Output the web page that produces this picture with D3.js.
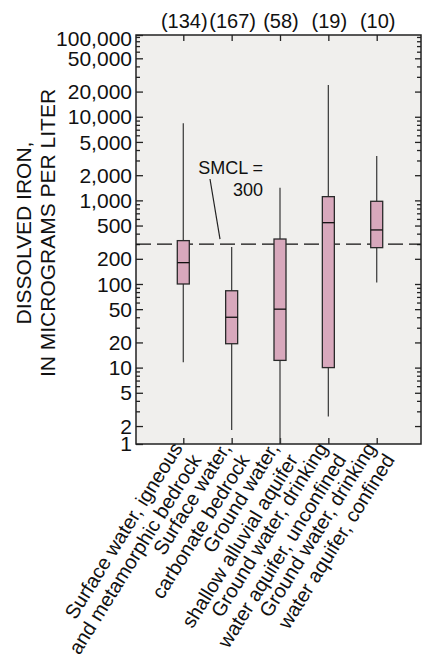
<!DOCTYPE html>
<html>
<head>
<meta charset="utf-8">
<script src="https://cdn.jsdelivr.net/npm/d3@7"></script>
<style>
  body { margin: 0; background: #ffffff; }
  svg { display: block; }
  text { font-family: "Liberation Sans", Arial, Helvetica, sans-serif; fill: #111; }
</style>
</head>
<body>
<svg id="chart" width="422" height="659"></svg>
<script>
// Dissolved iron by water type — boxplot summary (micrograms per liter)
const categoryLines = [
  ["Surface water, igneous", "and metamorphic bedrock"],
  ["Surface water,", "carbonate bedrock"],
  ["Ground water,", "shallow alluvial aquifer"],
  ["Ground water, drinking", "water aquifer, unconfined"],
  ["Ground water, drinking", "water aquifer, confined"]
];
const categories = categoryLines.map(l => l.join(" "));
const sampleCounts = [134, 167, 58, 19, 10];
const whiskerLow  = [11.6, 1.8, 1, 2.6, 104];
const quartile1   = [100, 19.3, 12.2, 10, 272];
const medians     = [180, 40, 50, 541, 443];
const quartile3   = [330, 83, 345, 1108, 975];
const whiskerHigh = [8360, 277, 1420, 24000, 3400];
const smcl = 300;
const yExtent = [1.22, 95000];
const yTickValues = [1, 2, 5, 10, 20, 50, 100, 200, 500, 1000, 2000, 5000, 10000, 20000, 50000, 100000];

const svg = d3.select("#chart");
const frame = { left: 136, right: 421, top: 35, bottom: 444 };

const x = d3.scalePoint().domain(categories).range([183.3, 376.7]);
const y = d3.scaleLog().domain(yExtent).range([frame.bottom, frame.top]).clamp(true);

const minorTicks = [];
for (let p = 0; p <= 4; p++) {
  for (let k = 1; k <= 9; k++) {
    const v = k * Math.pow(10, p);
    if (![1, 2, 5].includes(k) && v >= yExtent[0] && v <= yExtent[1]) minorTicks.push(v);
  }
}

// plot background
svg.append("rect")
  .attr("x", frame.left).attr("y", frame.top)
  .attr("width", frame.right - frame.left).attr("height", frame.bottom - frame.top)
  .attr("fill", "#f0efed");

// axes with inward ticks
const fmt = d3.format(",");
const leftMajor = svg.append("g").attr("transform", `translate(${frame.left},0)`)
  .call(d3.axisLeft(y).tickValues(yTickValues).tickSize(-7).tickPadding(4).tickFormat(fmt));
const leftMinor = svg.append("g").attr("transform", `translate(${frame.left},0)`)
  .call(d3.axisLeft(y).tickValues(minorTicks).tickSize(-4).tickFormat(""));
const rightMajor = svg.append("g").attr("transform", `translate(${frame.right},0)`)
  .call(d3.axisRight(y).tickValues(yTickValues.filter(v => v >= yExtent[0] && v <= yExtent[1])).tickSize(-6).tickFormat(""));
const rightMinor = svg.append("g").attr("transform", `translate(${frame.right},0)`)
  .call(d3.axisRight(y).tickValues(minorTicks).tickSize(-4).tickFormat(""));
const topAxis = svg.append("g").attr("transform", `translate(0,${frame.top})`)
  .call(d3.axisTop(x).tickSize(-6).tickFormat(""));
const bottomAxis = svg.append("g").attr("transform", `translate(0,${frame.bottom})`)
  .call(d3.axisBottom(x).tickSize(-6).tickFormat(""));

[leftMajor, leftMinor, rightMajor, rightMinor, topAxis, bottomAxis].forEach(g => {
  g.select(".domain").remove();
  g.selectAll(".tick line").attr("stroke", "#222").attr("stroke-width", 1.3);
});
leftMajor.selectAll(".tick text")
  .attr("font-size", 21)
  .attr("fill", "#111")
  .attr("font-family", "'Liberation Sans', Arial, sans-serif")
  .attr("dy", "0.34em");
// keep the end labels inside the frame's height
leftMajor.selectAll(".tick").filter(d => d >= yExtent[1])
  .select("text").attr("dy", "0.52em");
leftMajor.selectAll(".tick").filter(d => d <= yExtent[0])
  .select("text").attr("dy", "0.3em");

// SMCL reference line
svg.append("line")
  .attr("x1", frame.left).attr("x2", frame.right)
  .attr("y1", y(smcl)).attr("y2", y(smcl))
  .attr("stroke", "#111").attr("stroke-width", 1.3)
  .attr("stroke-dasharray", "15,6");

// boxes
const boxW = 12;
const boxes = svg.append("g");
categories.forEach((c, i) => {
  const cx = x(c);
  boxes.append("line")
    .attr("x1", cx).attr("x2", cx)
    .attr("y1", y(whiskerHigh[i])).attr("y2", y(quartile3[i]))
    .attr("stroke", "#444").attr("stroke-width", 1.3);
  boxes.append("line")
    .attr("x1", cx).attr("x2", cx)
    .attr("y1", y(quartile1[i])).attr("y2", y(whiskerLow[i]))
    .attr("stroke", "#444").attr("stroke-width", 1.3);
  boxes.append("rect")
    .attr("x", cx - boxW / 2).attr("width", boxW)
    .attr("y", y(quartile3[i])).attr("height", y(quartile1[i]) - y(quartile3[i]))
    .attr("fill", "#d8a8bc").attr("stroke", "#2a2a2a").attr("stroke-width", 1.3);
  boxes.append("line")
    .attr("x1", cx - boxW / 2).attr("x2", cx + boxW / 2)
    .attr("y1", y(medians[i])).attr("y2", y(medians[i]))
    .attr("stroke", "#111").attr("stroke-width", 1.3);
});

// frame
svg.append("rect")
  .attr("x", frame.left).attr("y", frame.top)
  .attr("width", frame.right - frame.left).attr("height", frame.bottom - frame.top)
  .attr("fill", "none").attr("stroke", "#222").attr("stroke-width", 1.5);

// sample counts above the plot
svg.append("g").selectAll("text").data(categories).join("text")
  .attr("x", (d) => x(d) + 1)
  .attr("y", 27.5)
  .attr("text-anchor", "middle")
  .attr("font-size", 20)
  .text((d, i) => `(${sampleCounts[i]})`);

// SMCL annotation
svg.append("text").attr("x", 263).attr("y", 173.5)
  .attr("text-anchor", "end").attr("font-size", 18).text("SMCL =");
svg.append("text").attr("x", 263).attr("y", 195.5)
  .attr("text-anchor", "end").attr("font-size", 18).text("300");
svg.append("line")
  .attr("x1", 210).attr("y1", 179)
  .attr("x2", 220).attr("y2", y(smcl) - 5)
  .attr("stroke", "#222").attr("stroke-width", 1.2);

// y-axis title
const title = svg.append("text")
  .attr("transform", `translate(30.5,233) rotate(-90)`)
  .attr("text-anchor", "middle")
  .attr("font-size", 21);
title.append("tspan").attr("x", 0).attr("y", 0).text("DISSOLVED IRON,");
title.append("tspan").attr("x", 0).attr("y", 24).text("IN MICROGRAMS PER LITER");

// rotated category labels
const catLabels = svg.append("g").selectAll("text").data(categories).join("text")
  .attr("transform", d => `translate(${x(d)},${frame.bottom + 4}) rotate(-58)`)
  .attr("text-anchor", "end")
  .attr("font-size", 20);
catLabels.each(function(d, i) {
  const t = d3.select(this);
  categoryLines[i].forEach((line, j) => {
    t.append("tspan").attr("x", 0).attr("y", j * 22).text(line);
  });
});
</script>
</body>
</html>
